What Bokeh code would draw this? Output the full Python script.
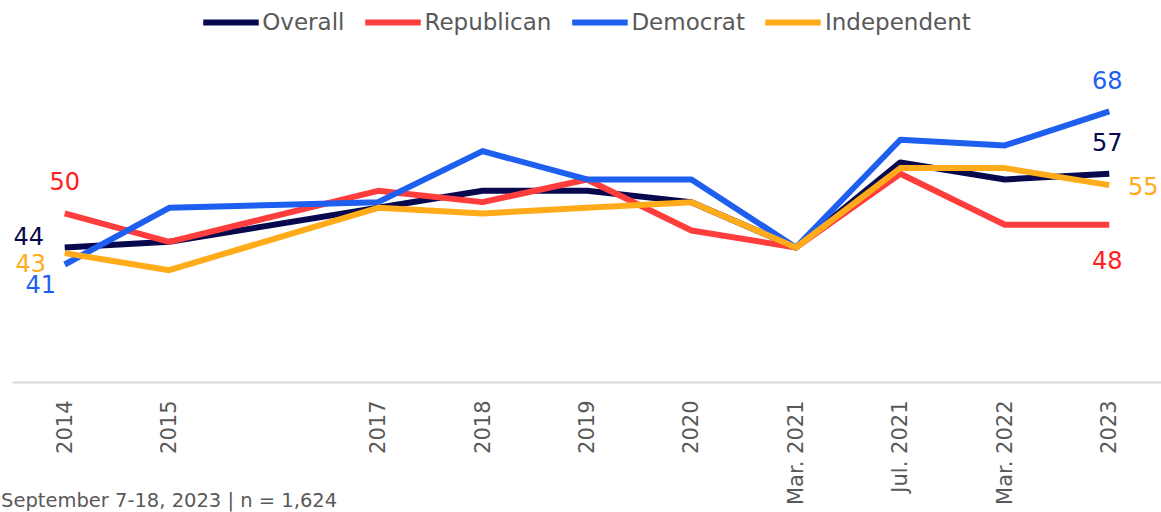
import math
from bokeh.plotting import figure
from bokeh.layouts import column
from bokeh.models import FixedTicker, Legend, LegendItem, Div, ColumnDataSource
from bokeh.core.properties import value
from bokeh.embed import file_html
from bokeh.resources import INLINE

# ---- data ----
categories = ["2014", "2015", "2017", "2018", "2019", "2020",
              "Mar. 2021", "Jul. 2021", "Mar. 2022", "2023"]
positions = [0, 1, 3, 4, 5, 6, 7, 8, 9, 10]   # 2016 gap kept on axis

overall     = [44, 45, 51, 54, 54, 52, 44, 59, 56, 57]
republican  = [50, 45, 54, 52, 56, 47, 44, 57, 48, 48]
democrat    = [41, 51, 52, 61, 56, 56, 44, 63, 62, 68]
independent = [43, 40, 51, 50, 51, 52, 44, 58, 58, 55]

series_names = ["Overall", "Republican", "Democrat", "Independent"]
series_vals = [overall, republican, democrat, independent]
colors = ["#08084f", "#ff3d3d", "#1f5ff0", "#ffab1a"]
label_colors = ["#08084f", "#ff2020", "#1f5ff0", "#ffab1a"]

source_note = "September 7-18, 2023 | n = 1,624"

FONT = "DejaVu Sans"

p = figure(width=1161, height=512, output_backend="svg", toolbar_location=None,
           x_range=(-0.5, 10.5), y_range=(20.19, 87.56),
           min_border_left=12, min_border_right=0, min_border_top=0,
           min_border_bottom=130)
p.outline_line_color = None
p.xgrid.visible = False
p.ygrid.visible = False
p.yaxis.visible = False
p.background_fill_color = "white"
p.border_fill_color = "white"

xa = p.xaxis[0]
xa.ticker = FixedTicker(ticks=positions)
xa.major_label_overrides = {pos: c for pos, c in zip(positions, categories)}
xa.major_label_orientation = math.pi / 2
xa.major_tick_line_color = None
xa.minor_tick_line_color = None
xa.axis_line_color = "#d9d9d9"
xa.axis_line_width = 2
xa.major_label_text_font = FONT
xa.major_label_text_font_size = "21px"
xa.major_label_text_color = "#595959"
xa.major_label_standoff = 12

items = []
for name, vals, col in zip(series_names, series_vals, colors):
    r = p.line(positions, vals, line_color=col, line_width=6, line_join="round")
    items.append(LegendItem(label=name, renderers=[r]))

legend = Legend(items=items, orientation="horizontal", location="top_center",
                label_text_font=FONT, label_text_font_size="23px",
                label_text_color="#595959", glyph_width=56, glyph_height=20,
                label_standoff=4, spacing=20, padding=0, margin=9,
                border_line_color=None, background_fill_alpha=0)
p.add_layout(legend, "center")

# end-point labels (first and last value of each series)
first_off = [(-36, -11), (0, -32), (-24, 19), (-34, 10)]
last_off = [(-2, -32), (-2, 35), (-2, -31), (34, 1)]
for vals, col, fo, lo in zip(series_vals, label_colors, first_off, last_off):
    for idx, off in ((0, fo), (-1, lo)):
        src = ColumnDataSource(dict(x=[positions[idx]], y=[vals[idx]], t=[str(vals[idx])]))
        p.text(x="x", y="y", text="t", source=src, x_offset=off[0], y_offset=off[1],
               text_align="center", text_baseline="middle", text_color=col,
               text_font=value(FONT), text_font_size="24px")

note = Div(text=source_note, width=420, height=22, margin=(-22, 0, 0, 1),
           styles={"font-family": "DejaVu Sans", "font-size": "19.5px",
                   "color": "#595959", "white-space": "nowrap",
                   "line-height": "22px", "z-index": "10"})

layout = column(p, note, spacing=0)
open("out.html", "w").write(file_html(layout, INLINE))
